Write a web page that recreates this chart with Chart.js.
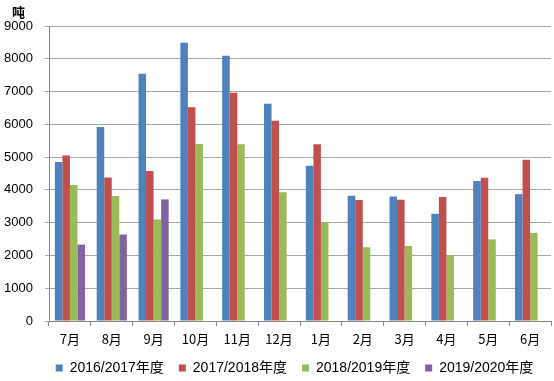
<!DOCTYPE html>
<html><head><meta charset="utf-8">
<script src="https://cdn.jsdelivr.net/npm/chart.js@4/dist/chart.umd.min.js"></script>
<style>html,body{margin:0;padding:0;background:#fff}#wrap{width:554px;height:381px}</style>
</head><body><div id="wrap"><canvas id="c" width="554" height="381"></canvas></div>
<script>
const months = ['7月','8月','9月','10月','11月','12月','1月','2月','3月','4月','5月','6月'];
const seriesNames = ['2016/2017年度','2017/2018年度','2018/2019年度','2019/2020年度'];
const s2016 = [4850, 5920, 7540, 8490, 8090, 6630, 4740, 3820, 3800, 3270, 4270, 3870];
const s2017 = [5050, 4380, 4580, 6520, 6960, 6110, 5390, 3690, 3700, 3780, 4370, 4920];
const s2018 = [4150, 3810, 3100, 5400, 5390, 3930, 3010, 2250, 2290, 2000, 2490, 2690];
const s2019 = [2330, 2640, 3710, null, null, null, null, null, null, null, null, null];
const colors = ['#4F81BD','#C0504D','#9BBB59','#8064A2'];
const unitLabel = '吨';

const unitPlugin = {
  id:'unit',
  afterLayout(chart){
    const lg = chart.legend;
    if (lg) { lg.left += 18; lg.right += 18; }
  },
  afterDraw(chart){
    const ctx = chart.ctx;
    ctx.save();
    ctx.font = 'bold 13px "Noto Sans CJK SC"';
    ctx.fillStyle = '#000';
    ctx.textBaseline = 'middle';
    ctx.fillText(unitLabel, 12, 12);
    ctx.restore();
  }
};

new Chart(document.getElementById('c'), {
  type:'bar',
  data:{
    labels: months,
    datasets: [s2016,s2017,s2018,s2019].map((d,i)=>({
      label: seriesNames[i], data: d, backgroundColor: colors[i],
      borderWidth: 0, categoryPercentage: 0.72, barPercentage: 1.0
    }))
  },
  options:{
    responsive:false, animation:false,
    layout:{padding:{left:2, right:3, top:26, bottom:0}},
    plugins:{
      legend:{position:'bottom', maxHeight:35, labels:{boxWidth:7, boxHeight:7, padding:15, color:'#000',
        font:{size:14, family:'"Liberation Sans","Noto Sans CJK SC"'}}},
      tooltip:{enabled:false}
    },
    scales:{
      x:{
        grid:{offset:true, drawOnChartArea:false, drawTicks:true, tickLength:5, color:'#888'},
        border:{color:'#888'},
        ticks:{color:'#000', font:{size:13, family:'"Noto Sans CJK SC"'}, padding:5, maxRotation:0},
        afterFit(s){ s.height = 25; }
      },
      y:{
        min:0, max:9000,
        ticks:{stepSize:1000, color:'#000', font:{size:13, family:'"Liberation Sans"'}, padding:12,
          callback:(v)=>String(v)},
        grid:{color:'#A6A6A6', tickLength:4},
        border:{color:'#888'},
        afterFit(s){ s.width = 47; }
      }
    }
  },
  plugins:[unitPlugin]
});
</script></body></html>
